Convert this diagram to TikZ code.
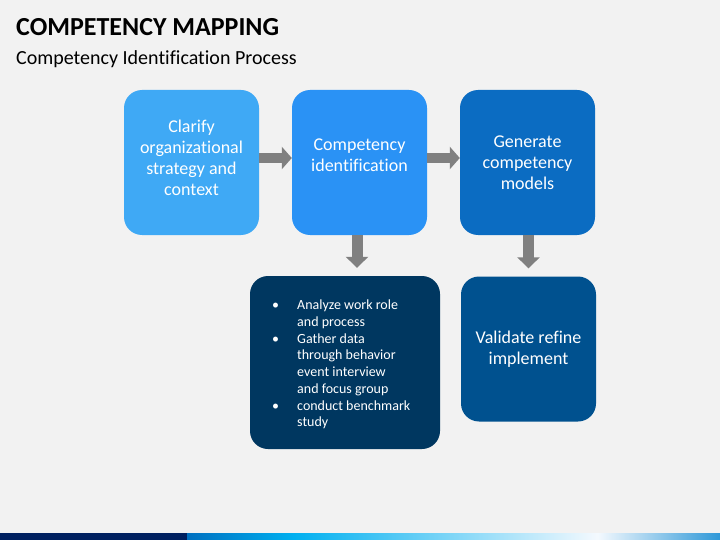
\documentclass[tikz,border=0pt]{standalone}
\usepackage{fontspec}
\setmainfont{Carlito}[Ligatures=CommonOff]
\usetikzlibrary{arrows.meta,calc}
\definecolor{bg}{HTML}{F2F2F2}
\definecolor{cA}{HTML}{3FA9F5}
\definecolor{cB}{HTML}{2A92F5}
\definecolor{cC}{HTML}{0B6CC2}
\definecolor{cD}{HTML}{003760}
\definecolor{cE}{HTML}{00518F}
\definecolor{arr}{HTML}{808080}
\definecolor{navy}{HTML}{002060}
\definecolor{s1}{HTML}{0070C0}
\definecolor{s2}{HTML}{00B0F0}
\definecolor{s3}{HTML}{F4F9FE}
\definecolor{s4}{HTML}{2E98D8}
\pgfdeclarehorizontalshading{barshade}{100bp}{color(0bp)=(s1); color(25bp)=(s1); color(35bp)=(s2); color(63.5bp)=(s3); color(75bp)=(s4); color(100bp)=(s4)}
\tikzset{
  box/.style={rounded corners=18pt, inner sep=0pt, minimum width=135pt, minimum height=145pt},
  txt/.style={text=white, align=center, inner sep=0pt, font=\fontsize{18}{21}\selectfont},
  harrow/.style={draw=arr, line width=10pt, -{Triangle[width=22pt,length=10pt]}},
  varrow/.style={draw=arr, line width=11pt, -{Triangle[width=22pt,length=11pt]}, shorten >=8pt},
}
\begin{document}
\begin{tikzpicture}[x=1pt,y=-1pt]
\fill[bg] (0,0) rectangle (720,540);
\useasboundingbox (0,0) rectangle (720,540);
% title
\node[anchor=base west, inner sep=0pt, font=\fontsize{26}{28}\selectfont\bfseries] (title) at (16,36) {COMPETENCY MAPPING};
\node[anchor=base west, inner sep=0pt, font=\fontsize{20}{22}\selectfont] (sub) at (16,65) {Competency Identification Process};
% boxes
\node[box, fill=cA] (b1) at (191.5,162.5) {};
\node[box, fill=cB] (b2) at (359.5,162.5) {};
\node[box, fill=cC] (b3) at (527.5,162.5) {};
\node[box, fill=cD, minimum width=190pt, minimum height=173pt] (b4) at (345,362.5) {};
\node[box, fill=cE] (b5) at (528.5,349) {};
% texts
\node[txt] (t1) at (191.5,157.5) {Clarify\\organizational\\strategy and\\context};
\node[txt] (t2) at (359.5,155) {Competency\\identification};
\node[txt] (t3) at (527.5,163) {Generate\\competency\\models};
\node[txt] (t5) at (528.5,349) {Validate refine\\implement};
\node[text=white, inner sep=0pt, anchor=west, font=\fontsize{14}{16.7}\selectfont] (t4) at (272,365)
 {\begin{tabular}{@{}p{25pt}@{}l@{}}
 \textbullet & Analyze work role\\
  & and process\\
 \textbullet & Gather data\\
  & through behavior\\
  & event interview\\
  & and focus group\\
 \textbullet & conduct benchmark\\
  & study
 \end{tabular}};
% arrows
\draw[harrow] ([yshift=4.5pt]b1.east) -- ([yshift=4.5pt]b2.west);
\draw[harrow] ([yshift=4.5pt]b2.east) -- ([yshift=4.5pt]b3.west);
\draw[varrow] ([xshift=-2.5pt]b2.south) -- ([xshift=-2.5pt]b2.south |- b4.north);
\draw[varrow] (b5.north |- b3.south) -- (b5.north);
% bottom bar
\fill[navy] (0,533) rectangle (187,540);
\shade[shading=barshade] (187,533) rectangle (720,540);
\end{tikzpicture}
\end{document}
